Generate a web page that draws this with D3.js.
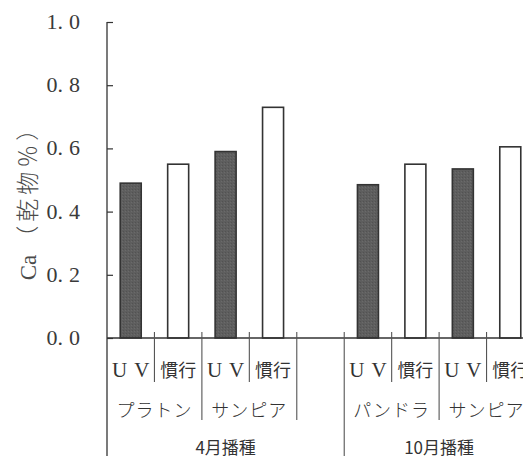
<!DOCTYPE html>
<html><head><meta charset="utf-8">
<script src="https://cdn.jsdelivr.net/npm/d3@7"></script>
<style>body{margin:0;background:#fff;} svg{display:block;}</style>
</head><body>
<svg id="c" width="523" height="456"></svg>
<script>
const slots = ["p-uv","p-kan","s1-uv","s1-kan","gap","pd-uv","pd-kan","s2-uv","s2-kan"];
const treatments = ["UV","慣行","UV","慣行","","UV","慣行","UV","慣行"];
const cultivars = ["プラトン","サンピア","パンドラ","サンピア"];
const cultivarSpans = [["p-uv","p-kan"],["s1-uv","s1-kan"],["pd-uv","pd-kan"],["s2-uv","s2-kan"]];
const seasons = ["4月播種","10月播種"];
const seasonSpans = [["p-uv","gap"],["pd-uv","s2-kan"]];
const barSlots = ["p-uv","p-kan","s1-uv","s1-kan","pd-uv","pd-kan","s2-uv","s2-kan"];
const barType = ["UV","慣行","UV","慣行","UV","慣行","UV","慣行"];
const caValues = [0.49, 0.55, 0.59, 0.73, 0.485, 0.55, 0.535, 0.605];
const yTicks = [0,0.2,0.4,0.6,0.8,1.0];

const svg = d3.select("#c");
const x = d3.scaleBand().domain(slots).range([107, 534]).paddingInner(0).paddingOuter(0);
const y = d3.scaleLinear().domain([0,1]).range([338, 22]);
const ink = "#333";
const bw = 21;
const left = s => x(s), right = s => x(s)+x.bandwidth();

// texture pattern for UV bars
const defs = svg.append("defs");
const pat = defs.append("pattern").attr("id","tex").attr("width",3).attr("height",3).attr("patternUnits","userSpaceOnUse");
pat.append("rect").attr("width",3).attr("height",3).attr("fill","#5e5e5e");
pat.append("rect").attr("x",0).attr("y",0).attr("width",1).attr("height",1).attr("fill","#525252");
pat.append("rect").attr("x",2).attr("y",1).attr("width",1).attr("height",1).attr("fill","#6a6a6a");

// bars
svg.selectAll("rect.bar").data(caValues).join("rect")
  .attr("class","bar")
  .attr("x",(d,i)=>x(barSlots[i]) + x.bandwidth()/2 - bw/2)
  .attr("width",bw)
  .attr("y",d=>y(d))
  .attr("height",d=>y(0)-y(d))
  .attr("fill",(d,i)=>barType[i]==="UV"?"url(#tex)":"#fff")
  .attr("stroke",ink).attr("stroke-width",1.6);

// y axis
const yAxis = d3.axisRight(y).tickValues(yTicks).tickSize(6).tickFormat("");
const ya = svg.append("g").attr("transform","translate(107,0)").call(yAxis);
ya.select(".domain").remove();
ya.selectAll("line").attr("stroke",ink).attr("stroke-width",1.2);
svg.append("line").attr("x1",107).attr("x2",107).attr("y1",y(1)).attr("y2",456).attr("stroke",ink).attr("stroke-width",1.3);
// tick labels
const yl = svg.selectAll("text.yl").data(yTicks).join("text").attr("class","yl")
  .attr("x",80).attr("y",d=>y(d)+7).attr("text-anchor","end")
  .attr("font-family","'Liberation Serif','DejaVu Serif',serif").attr("font-size",22)
  .attr("fill","#3a3a3a");
yl.append("tspan").text(d=>d3.format(".1f")(d).split(".")[0]+".");
yl.append("tspan").attr("dx",6).text(d=>d3.format(".1f")(d).split(".")[1]);

// baseline
svg.append("line").attr("x1",107).attr("x2",523).attr("y1",y(0)).attr("y2",y(0)).attr("stroke",ink).attr("stroke-width",1.4);

// y title
const yt = svg.append("text").attr("transform","translate(36,197) rotate(-90)").attr("text-anchor","middle")
  .attr("fill","#4a4a4a").attr("font-size",23);
yt.append("tspan").attr("font-family","'Liberation Serif',serif").text("Ca");
yt.append("tspan").attr("dx",6).attr("font-family","'Noto Sans CJK JP',sans-serif").attr("font-weight",300).attr("letter-spacing",4).text("（乾物％）");

// separators
const seps = [
  [right("p-uv"),382],[right("p-kan"),420],[right("s1-uv"),382],[right("s1-kan"),420],
  [right("gap"),456],[right("pd-uv"),382],[right("pd-kan"),420],[right("s2-uv"),382]
];
svg.selectAll("line.sep").data(seps).join("line").attr("class","sep")
  .attr("x1",d=>d[0]).attr("x2",d=>d[0]).attr("y1",332).attr("y2",d=>d[1])
  .attr("stroke","#555").attr("stroke-width",1.1);

const jf = "'Noto Sans CJK JP','Noto Sans CJK SC',sans-serif";
// treatment row
svg.selectAll("text.tr").data(treatments).join("text").attr("class","tr")
  .attr("x",(d,i)=>x(slots[i])+x.bandwidth()/2).attr("y",377)
  .attr("text-anchor","middle")
  .attr("font-family",d=>d==="UV"?"'Liberation Serif',serif":jf)
  .attr("font-size",d=>d==="UV"?21:18)
  .attr("letter-spacing",d=>d==="UV"?7:0)
  .attr("dx",d=>d==="UV"?3.5:0)
  .attr("fill","#333")
  .text(d=>d);
// cultivar row
svg.selectAll("text.cv").data(cultivars).join("text").attr("class","cv")
  .attr("x",(d,i)=>(left(cultivarSpans[i][0])+right(cultivarSpans[i][1]))/2).attr("y",417)
  .attr("text-anchor","middle").attr("font-family",jf).attr("font-weight",300).attr("font-size",18).attr("fill","#333")
  .attr("letter-spacing",1)
  .text(d=>d);
// season row
svg.selectAll("text.se").data(seasons).join("text").attr("class","se")
  .attr("x",(d,i)=>(left(seasonSpans[i][0])+right(seasonSpans[i][1]))/2).attr("y",454)
  .attr("text-anchor","middle").attr("font-family",jf).attr("font-size",17).attr("fill","#333")
  .text(d=>d);
</script>
</body></html>
